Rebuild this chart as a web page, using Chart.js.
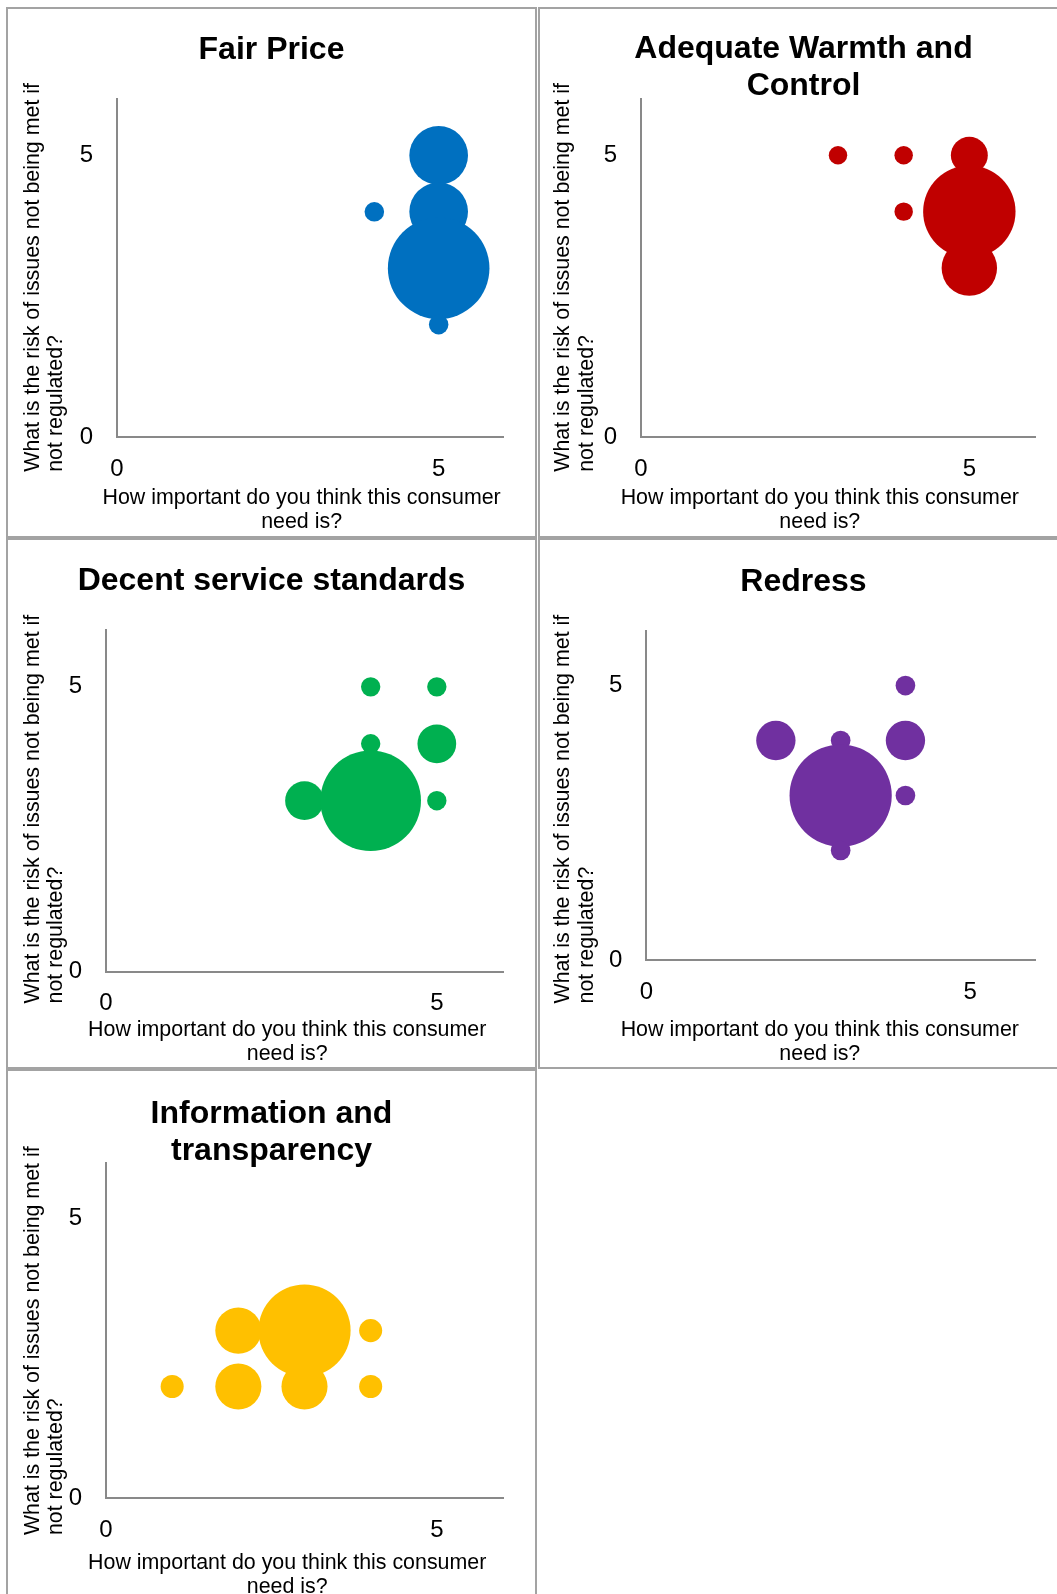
<!DOCTYPE html>
<html>
<head>
<meta charset="utf-8">
<script src="https://cdn.jsdelivr.net/npm/chart.js@4.4.1/dist/chart.umd.min.js"></script>
<style>
html, body { margin: 0; padding: 0; background: #fff; overflow: hidden; }
.cell { position: absolute; width: 527px; height: 527px; border: 2px solid #a3a3a3; background: #fff; }
.cell canvas { display: block; }
</style>
</head>
<body>
<div class="cell" style="left:6px;top:7px"><canvas id="fair" width="527" height="527"></canvas></div>
<div class="cell" style="left:538px;top:7px"><canvas id="warmth" width="527" height="527"></canvas></div>
<div class="cell" style="left:6px;top:538px"><canvas id="service" width="527" height="527"></canvas></div>
<div class="cell" style="left:538px;top:538px"><canvas id="redress" width="527" height="527"></canvas></div>
<div class="cell" style="left:6px;top:1069px"><canvas id="info" width="527" height="527"></canvas></div>
<script>
// axis texts
const xAxisLines = ['How important do you think this consumer', 'need is?'];
const yAxisLines = ['What is the risk of issues not being met if', 'not regulated?'];

// Fair Price
const fairTitle = ['Fair Price'];
const fairX = [5, 4, 5, 5, 5];
const fairY = [5, 4, 4, 3, 2];
const fairN = [9, 1, 9, 27, 1];

// Adequate Warmth and Control
const warmthTitle = ['Adequate Warmth and', 'Control'];
const warmthX = [3, 4, 4, 5, 5, 5];
const warmthY = [5, 5, 4, 5, 4, 3];
const warmthN = [1, 1, 1, 4, 25, 9];

// Decent service standards
const serviceTitle = ['Decent service standards'];
const serviceX = [4, 5, 4, 5, 3, 4, 5];
const serviceY = [5, 5, 4, 4, 3, 3, 3];
const serviceN = [1, 1, 1, 4, 4, 27, 1];

// Redress
const redressTitle = ['Redress'];
const redressX = [4, 2, 3, 4, 3, 4, 3];
const redressY = [5, 4, 4, 4, 3, 3, 2];
const redressN = [1, 4, 1, 4, 27, 1, 1];

// Information and transparency
const infoTitle = ['Information and', 'transparency'];
const infoX = [2, 3, 4, 1, 2, 3, 4];
const infoY = [3, 3, 3, 2, 2, 2, 2];
const infoN = [4, 16, 1, 1, 4, 4, 1];

Chart.defaults.font.family = "'Liberation Sans', Arial, sans-serif";
Chart.defaults.color = '#000';

// draws the two axis titles (x centred, y left aligned and rotated)
const axisCaptions = {
  id: 'axisCaptions',
  afterDraw(chart, args, opts) {
    const ctx = chart.ctx;
    ctx.save();
    ctx.fillStyle = '#000';
    ctx.font = "21.4px 'Liberation Sans', Arial, sans-serif";
    ctx.textBaseline = 'middle';
    ctx.textAlign = 'center';
    xAxisLines.forEach((t, i) => ctx.fillText(t, opts.xCenter, opts.xTop + i * 23.8));
    ctx.textAlign = 'left';
    yAxisLines.forEach((t, i) => {
      ctx.save();
      ctx.translate(opts.yLeft + i * 23.8, opts.yStart);
      ctx.rotate(-Math.PI / 2);
      ctx.fillText(t, 0, 0);
      ctx.restore();
    });
    ctx.restore();
  }
};

function makeChart(id, title, xs, ys, ns, color, box) {
  const points = xs.map((x, i) => ({x: x, y: ys[i], n: ns[i]}));
  const nMax = Math.max(...ns);
  const size = 527;
  const fs = 32;
  const lh = 37.2;
  const padTop = box.titleBase - fs * 0.25 - lh / 2;
  const padBottom = box.top - padTop - lh * title.length;

  const axis = (isX) => ({
    type: 'linear',
    min: 0,
    max: 6,
    ticks: {stepSize: 5, color: '#000', font: {size: 24}, padding: isX ? 17.5 : 24, maxRotation: 0},
    grid: {display: false, drawTicks: false},
    border: {display: true, color: '#898989', width: 2},
    afterBuildTicks: s => { s.ticks = s.ticks.filter(t => t.value % 5 === 0); },
    afterFit: s => {
      if (isX) s.height = size - box.bottom;
      else s.width = box.left;
    }
  });

  return new Chart(document.getElementById(id), {
    type: 'bubble',
    data: {
      datasets: [{
        data: points,
        backgroundColor: color,
        borderWidth: 0,
        radius: ctx => box.maxR * Math.sqrt(ctx.raw.n / nMax)
      }]
    },
    options: {
      responsive: false,
      animation: false,
      events: [],
      layout: {autoPadding: false, padding: 0},
      scales: {
        x: axis(true),
        y: axis(false),
        // empty strip on the right so the plot stops where the reference does
        rightGap: {
          type: 'linear',
          position: 'right',
          display: true,
          grid: {display: false},
          border: {display: false},
          ticks: {display: false},
          afterFit: s => { s.width = size - box.right; }
        }
      },
      plugins: {
        legend: {display: false},
        tooltip: {enabled: false},
        title: {
          display: true,
          text: title,
          color: '#000',
          font: {size: fs, weight: 'bold', lineHeight: lh / fs},
          padding: {top: padTop, bottom: padBottom}
        },
        axisCaptions: {xCenter: box.xCenter, xTop: box.xTop, yLeft: box.yLeft, yStart: box.yStart}
      }
    },
    plugins: [axisCaptions]
  });
}

makeChart('fair', fairTitle, fairX, fairY, fairN, '#0070C0',
  {left: 109, top: 90, right: 495, bottom: 428.4, titleBase: 48.9, maxR: 50.8, xCenter: 293.6, xTop: 489.3, yLeft: 24.7, yStart: 462.8});
makeChart('warmth', warmthTitle, warmthX, warmthY, warmthN, '#C00000',
  {left: 101, top: 89.8, right: 495, bottom: 428.3, titleBase: 47.8, maxR: 46.2, xCenter: 279.8, xTop: 489.3, yLeft: 23.6, yStart: 462.8});
makeChart('service', serviceTitle, serviceX, serviceY, serviceN, '#00B050',
  {left: 98, top: 89.9, right: 495, bottom: 431.5, titleBase: 49.2, maxR: 50.3, xCenter: 279.2, xTop: 490, yLeft: 24.7, yStart: 463.5});
makeChart('redress', redressTitle, redressX, redressY, redressN, '#7030A0',
  {left: 106.3, top: 90.6, right: 495, bottom: 420.4, titleBase: 50.3, maxR: 51.1, xCenter: 279.8, xTop: 490, yLeft: 23.6, yStart: 463.5});
makeChart('info', infoTitle, infoX, infoY, infoN, '#FFC000',
  {left: 98, top: 91.9, right: 495, bottom: 427.3, titleBase: 51.3, maxR: 46.1, xCenter: 279.2, xTop: 492, yLeft: 24.7, yStart: 464.1});
</script>
</body>
</html>
